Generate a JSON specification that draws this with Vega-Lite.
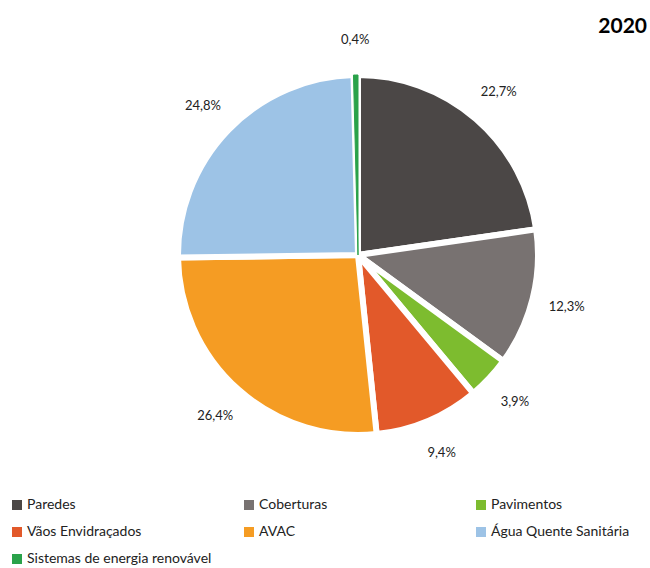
{
  "$schema": "https://vega.github.io/schema/vega-lite/v6.json",
  "width": 584,
  "height": 510,
  "autosize": {"type": "none"},
  "padding": {"left": 66, "top": 0, "right": 0, "bottom": 58},
  "background": "white",
  "config": {
    "view": {"stroke": null},
    "font": "Lato",
    "locale": {"number": {"decimal": ",", "thousands": ".", "grouping": [3], "currency": ["", " €"]}}
  },
  "title": {"text": "2020", "anchor": "end", "frame": "group", "fontSize": 21, "fontWeight": "bold", "font": "Lato", "color": "#000000", "dy": 41, "dx": -3},
  "data": {"values": [
    {"categoria": "Paredes", "valor": 0.227, "ordem": 1},
    {"categoria": "Coberturas", "valor": 0.123, "ordem": 2},
    {"categoria": "Pavimentos", "valor": 0.039, "ordem": 3},
    {"categoria": "Vãos Envidraçados", "valor": 0.094, "ordem": 4},
    {"categoria": "AVAC", "valor": 0.264, "ordem": 5},
    {"categoria": "Água Quente Sanitária", "valor": 0.248, "ordem": 6},
    {"categoria": "Sistemas de energia renovável", "valor": 0.004, "ordem": 7}
  ]},
  "encoding": {
    "theta": {"field": "valor", "type": "quantitative", "stack": true},
    "order": {"field": "ordem", "type": "quantitative"},
    "color": {
      "field": "categoria", "type": "nominal",
      "scale": {
        "domain": ["Paredes", "Coberturas", "Pavimentos", "Vãos Envidraçados", "AVAC", "Água Quente Sanitária", "Sistemas de energia renovável"],
        "range": ["#4b4746", "#787271", "#7dbc2f", "#e2592a", "#f59c23", "#9dc3e6", "#2aa24a"]
      },
      "legend": {
        "title": null, "orient": "none", "legendX": -56, "legendY": 498, "direction": "horizontal",
        "columns": 3, "gridAlign": "all", "columnPadding": 30, "rowPadding": 13,
        "symbolType": "square", "symbolSize": 100, "symbolStrokeWidth": 0,
        "labelFontSize": 14, "labelFont": "Lato", "labelColor": "#222222", "labelOffset": 3, "labelLimit": 300
      }
    }
  },
  "layer": [
    {"mark": {"type": "arc", "outerRadius": 180},
     "encoding": {
       "stroke": {"condition": {"test": "datum.categoria === 'Sistemas de energia renovável'", "value": "#2aa24a"}, "value": "white"},
       "strokeWidth": {"condition": {"test": "datum.categoria === 'Sistemas de energia renovável'", "value": 1}, "value": 6}
     }},
    {"mark": {"type": "text", "radius": 215, "fontSize": 13, "font": "Lato", "color": "#222222"},
     "encoding": {"text": {"field": "valor", "type": "quantitative", "format": ".1%"}, "color": {"value": "#222222"}}}
  ]
}
